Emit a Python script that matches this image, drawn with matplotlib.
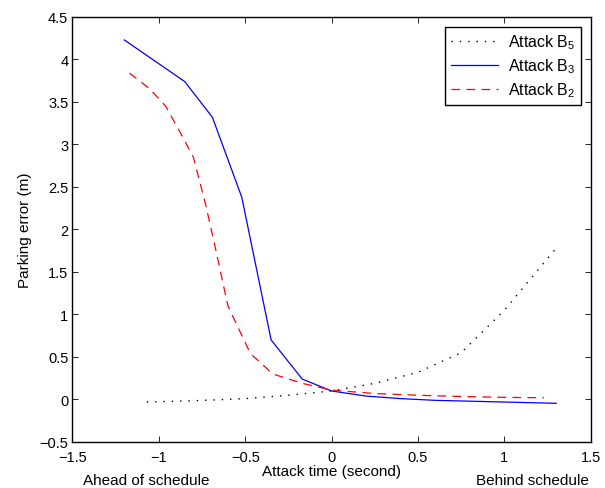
import matplotlib
matplotlib.use("Agg")
import matplotlib.pyplot as plt

plt.rcParams['font.family'] = ['Liberation Sans', 'DejaVu Sans']
plt.rcParams['mathtext.fontset'] = 'custom'
plt.rcParams['mathtext.rm'] = 'Liberation Sans'
plt.rcParams['mathtext.it'] = 'Liberation Sans'

# Attack B5 (dotted)
b5_x = [-1.07, -0.8, -0.5, -0.25, 0.0, 0.25, 0.5, 0.75, 1.0, 1.3]
b5_y = [-0.03, -0.015, 0.01, 0.05, 0.10, 0.19, 0.32, 0.55, 1.05, 1.78]

# Attack B3 (solid)
b3_x = [-1.2, -0.85, -0.69, -0.52, -0.35, -0.17, 0.0, 0.2, 0.4, 0.6, 0.8, 1.0, 1.3]
b3_y = [4.23, 3.74, 3.32, 2.38, 0.70, 0.24, 0.10, 0.04, 0.01, -0.01, -0.02, -0.03, -0.045]

# Attack B2 (dashed)
b2_x = [-1.17, -1.05, -0.96, -0.86, -0.8, -0.73, -0.68, -0.6, -0.47, -0.34, -0.17,
        0.0, 0.25, 0.5, 0.75, 1.0, 1.23]
b2_y = [3.84, 3.65, 3.45, 3.08, 2.85, 2.3, 1.85, 1.1, 0.54, 0.30, 0.19,
        0.11, 0.07, 0.05, 0.035, 0.025, 0.02]

xticks = [-1.5, -1, -0.5, 0, 0.5, 1, 1.5]
yticks = [-0.5, 0, 0.5, 1, 1.5, 2, 2.5, 3, 3.5, 4, 4.5]

fig = plt.figure(figsize=(6.05, 4.89), dpi=100)
ax = fig.add_axes([0.1198, 0.0941, 0.8566, 0.8691])

ax.plot(b5_x, b5_y, color='black', linestyle=(0, (1, 5)), linewidth=1.0, label='Attack B$_5$')
ax.plot(b3_x, b3_y, color='blue', linestyle='-', linewidth=0.9, label='Attack B$_3$')
ax.plot(b2_x, b2_y, color='red', linestyle=(0, (7, 5)), linewidth=0.9, label='Attack B$_2$')

ax.set_xlim(-1.5, 1.5)
ax.set_ylim(-0.5, 4.5)
ax.set_xticks(xticks)
ax.set_yticks(yticks)
ax.set_xticklabels(['\u22121.5', '\u22121', '\u22120.5', '0', '0.5', '1', '1.5'])
ax.set_yticklabels(['\u22120.5', '0', '0.5', '1', '1.5', '2', '2.5', '3', '3.5', '4', '4.5'])
ax.tick_params(direction='in', top=True, right=True, labelsize=10.5, length=4, width=0.6)
ax.tick_params(axis='y', pad=3)
ax.tick_params(axis='x', pad=6)
for s in ax.spines.values():
    s.set_linewidth(1.0)

ax.set_ylabel('Parking error (m)', fontsize=11, labelpad=5)
ax.set_xlabel('Attack time (second)', fontsize=11, labelpad=0)
fig.text(146 / 605, 1 - 481 / 489, 'Ahead of schedule', fontsize=11, ha='center', va='center')
fig.text(532 / 605, 1 - 481 / 489, 'Behind schedule', fontsize=11, ha='center', va='center')

leg = ax.legend(loc='upper right', fontsize=11.5, fancybox=False, framealpha=1,
                edgecolor='black', handlelength=3.0, borderaxespad=0.6,
                labelspacing=0.35, handletextpad=0.6, borderpad=0.35)
leg.get_frame().set_linewidth(1.0)

fig.savefig('out.png', dpi=100)
